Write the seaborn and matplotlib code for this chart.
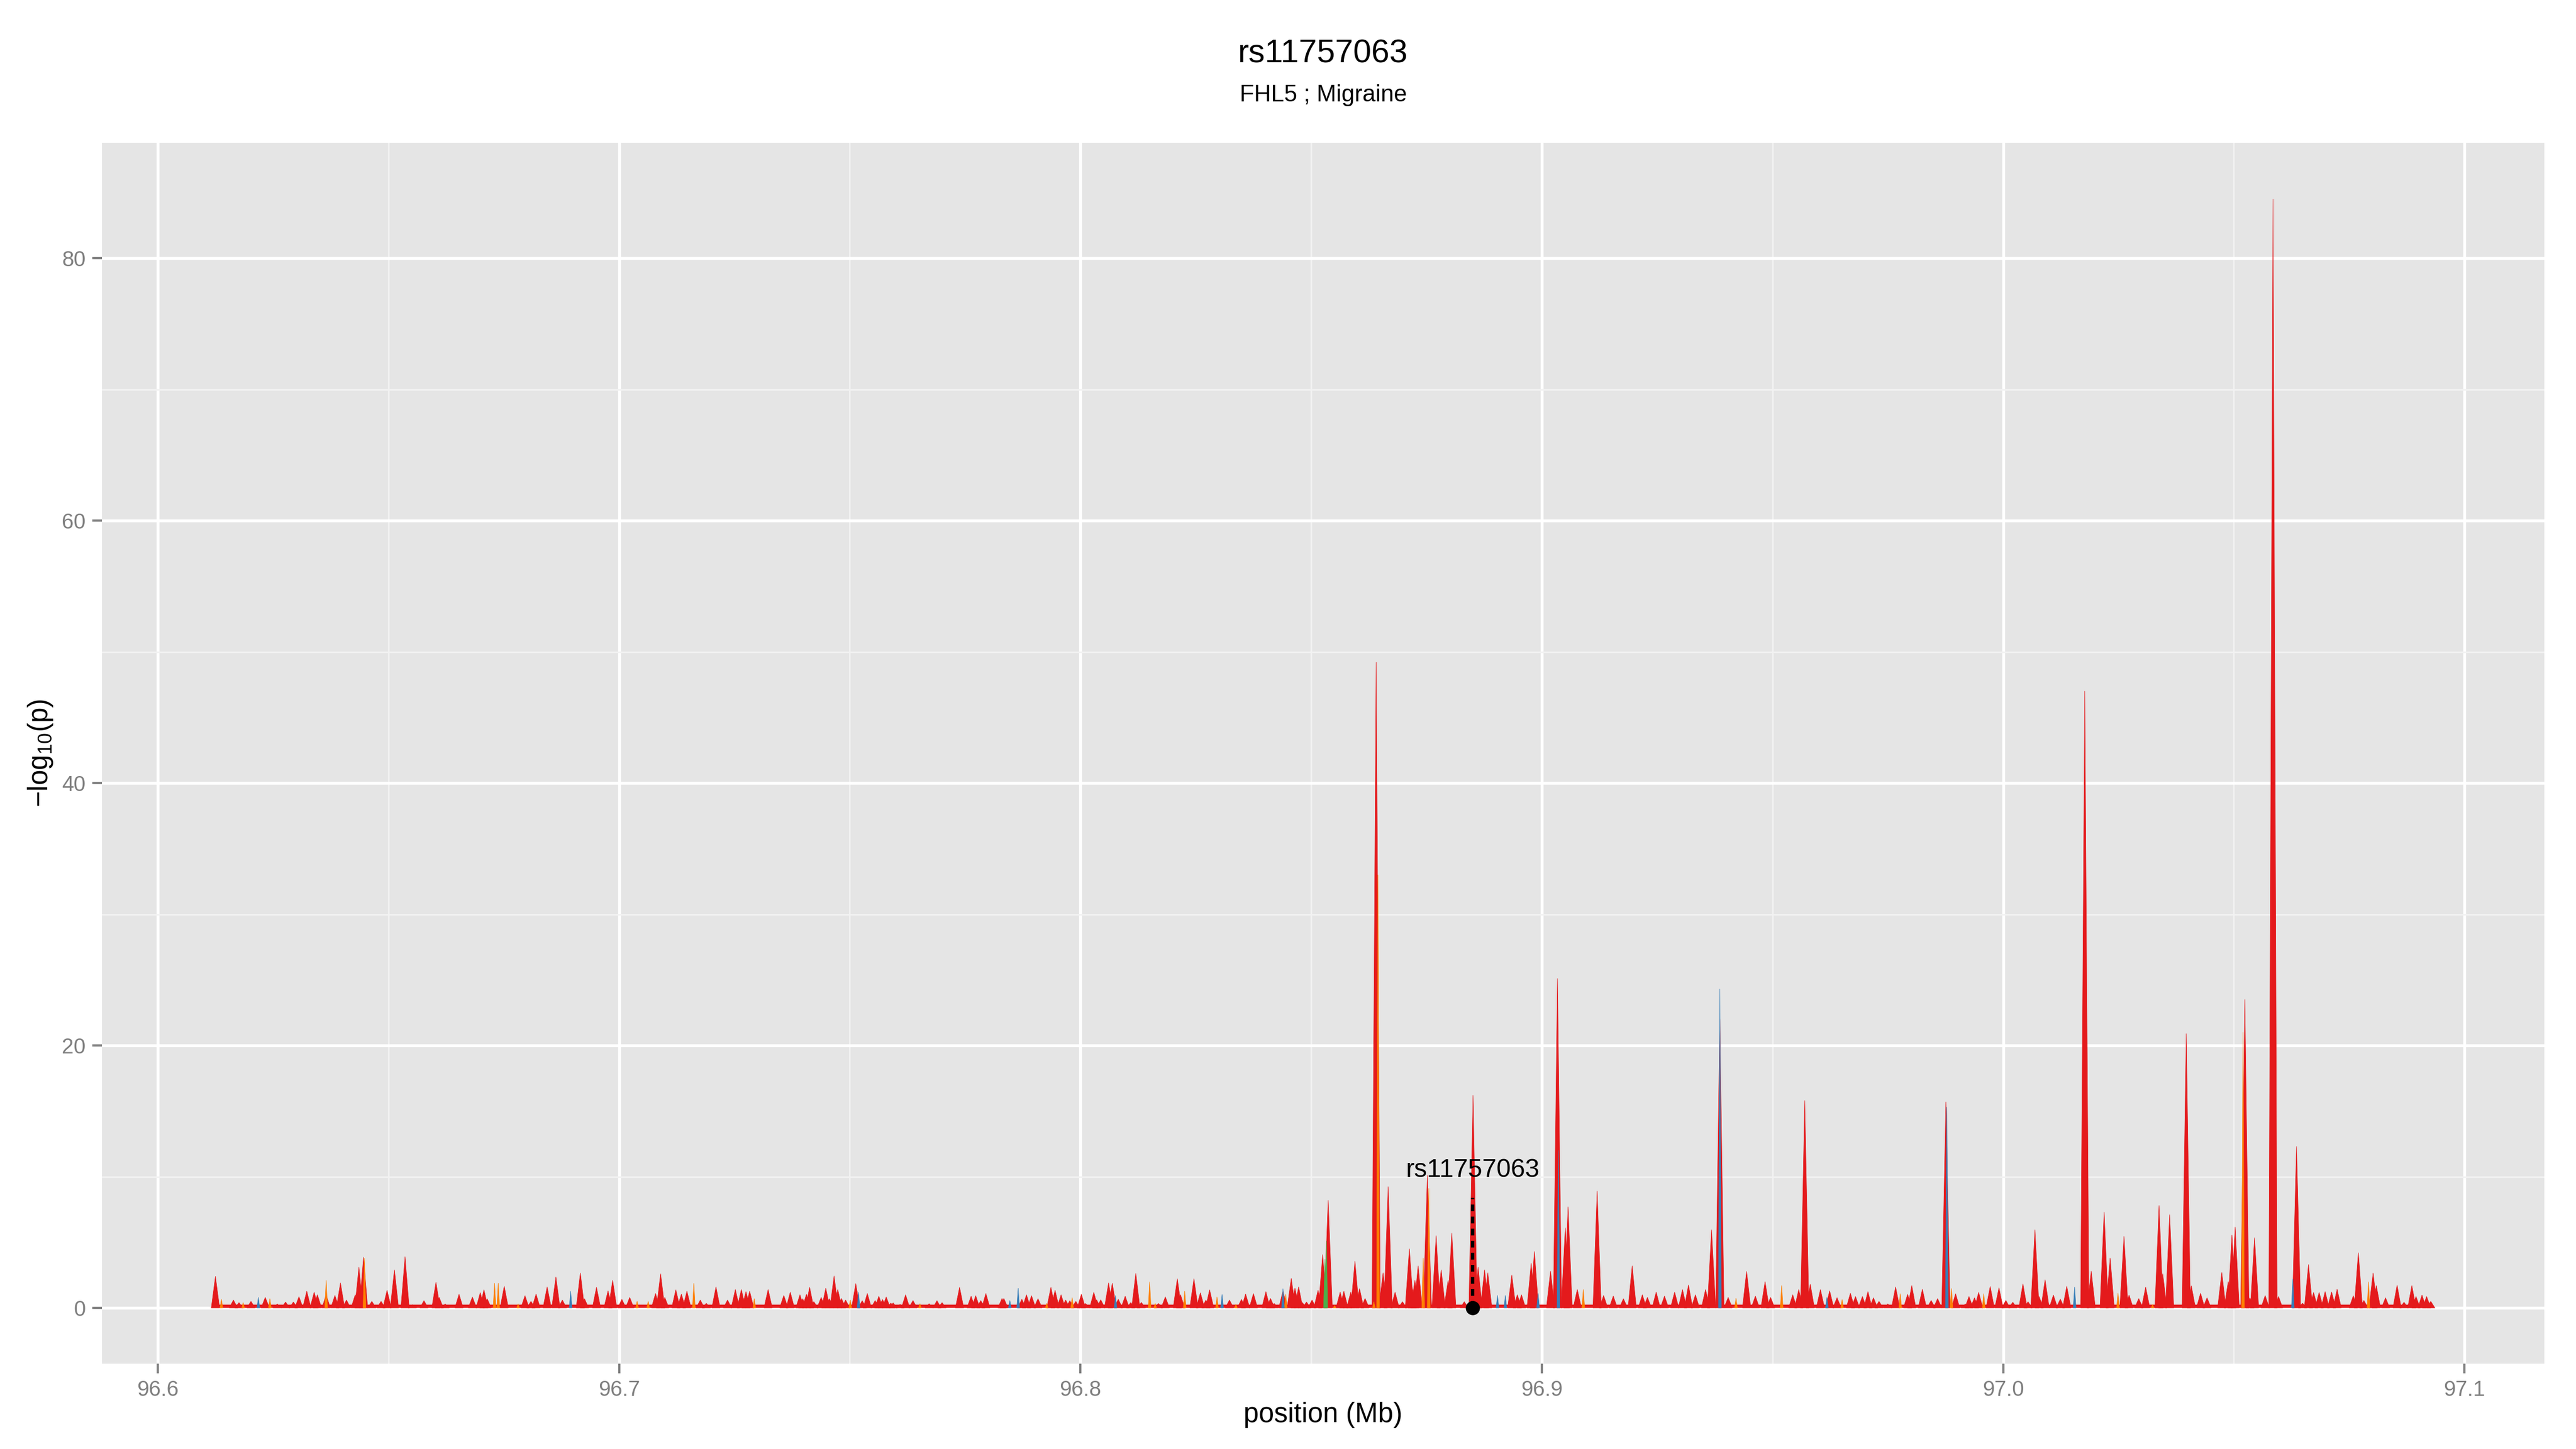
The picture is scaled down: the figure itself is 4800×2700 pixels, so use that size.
import numpy as np
import pandas as pd
import matplotlib
matplotlib.use("Agg")
import matplotlib.pyplot as plt
from matplotlib.collections import PolyCollection
import seaborn as sns

# ---------------- data ----------------
title_text = "rs11757063"
subtitle_text = "FHL5 ; Migraine"
x_label = "position (Mb)"
y_label = "\u2212log$_{10}$(p)"

x_ticks = [96.6, 96.7, 96.8, 96.9, 97.0, 97.1]
x_tick_labels = ["96.6", "96.7", "96.8", "96.9", "97.0", "97.1"]
y_ticks = [0, 20, 40, 60, 80]
y_tick_labels = ["0", "20", "40", "60", "80"]

# -log10(p) peaks, LD class "red"
red_pos = [
    96.6125, 96.6164, 96.6176, 96.6202, 96.6233, 96.6259, 96.6277, 96.6294, 96.6306, 96.6323,
    96.6339, 96.6346, 96.6365, 96.6384, 96.6396, 96.6409, 96.6428, 96.6436, 96.6446, 96.6464,
    96.6484, 96.6497, 96.6513, 96.6536, 96.6552, 96.6577, 96.6603, 96.6610, 96.6623, 96.6653,
    96.6682, 96.6699, 96.6707, 96.6714, 96.6751, 96.6796, 96.6809, 96.6820, 96.6844, 96.6863,
    96.6877, 96.6916, 96.6925, 96.6951, 96.6976, 96.6986, 96.7006, 96.7023, 96.7079, 96.7090,
    96.7099, 96.7123, 96.7135, 96.7147, 96.7176, 96.7189, 96.7210, 96.7235, 96.7252, 96.7265,
    96.7275, 96.7283, 96.7323, 96.7357, 96.7371, 96.7392,
    96.7398, 96.7406, 96.7413, 96.7422, 96.7438, 96.7448, 96.7456, 96.7466, 96.7474, 96.7482,
    96.7491, 96.7513, 96.7527, 96.7538, 96.7555, 96.7563, 96.7571, 96.7579, 96.7589, 96.7594,
    96.7609, 96.7621, 96.7637, 96.7672, 96.7689, 96.7700, 96.7738, 96.7763, 96.7773, 96.7784,
    96.7795, 96.7830, 96.7834, 96.7873, 96.7883, 96.7894, 96.7908, 96.7936, 96.7945, 96.7958,
    96.7968, 96.7977, 96.7990, 96.8002, 96.8011, 96.8029, 96.8035, 96.8044, 96.8061, 96.8069,
    96.8082, 96.8097, 96.8109, 96.8120, 96.8132, 96.8169, 96.8184, 96.8210, 96.8217, 96.8246,
    96.8260, 96.8272, 96.8280, 96.8323, 96.8349, 96.8358, 96.8375, 96.8402, 96.8412, 96.8420,
    96.8439, 96.8457, 96.8465, 96.8473, 96.8481, 96.8490, 96.8502, 96.8515, 96.8525, 96.8537,
    96.8563, 96.8571, 96.8579, 96.8586, 96.8595, 96.8605, 96.8617,
    96.8641, 96.8656, 96.8667, 96.8682, 96.8698, 96.8713, 96.8719, 96.8725, 96.8732, 96.8752,
    96.8771, 96.8782, 96.8797, 96.8805, 96.8832, 96.8851, 96.8862, 96.8876, 96.8883, 96.8935,
    96.8947, 96.8956, 96.8977, 96.8984, 96.9019, 96.9034, 96.9051, 96.9057, 96.9077, 96.9120,
    96.9134, 96.9155, 96.9177, 96.9196, 96.9218, 96.9229, 96.9248, 96.9266, 96.9288, 96.9305,
    96.9318, 96.9333, 96.9355, 96.9368, 96.9386, 96.9404, 96.9444, 96.9463, 96.9484, 96.9496,
    96.9544, 96.9557, 96.9570, 96.9582, 96.9604,
    96.9624, 96.9640, 96.9669, 96.9680, 96.9695, 96.9707, 96.9719, 96.9731, 96.9750, 96.9767,
    96.9793, 96.9802, 96.9825, 96.9844, 96.9858, 96.9876, 96.9897, 96.9918, 96.9926, 96.9938,
    96.9947, 96.9972, 96.9991, 97.0006, 97.0021, 97.0043, 97.0054, 97.0069, 97.0078, 97.0091,
    97.0109, 97.0124, 97.0138, 97.0177, 97.0191, 97.0219, 97.0232, 97.0262, 97.0273, 97.0294,
    97.0309, 97.0338, 97.0346, 97.0361, 97.0397, 97.0408, 97.0428, 97.0442, 97.0474, 97.0488,
    97.0496, 97.0503, 97.0524, 97.0535, 97.0545, 97.0568, 97.0585, 97.0597, 97.0636, 97.0649,
    97.0662, 97.0673, 97.0685, 97.0698, 97.0712, 97.0724, 97.0759, 97.0770, 97.0782, 97.0802,
    97.0809, 97.0829, 97.0854, 97.0869, 97.0886, 97.0895, 97.0908, 97.0918, 97.0927,
]
red_logp = [
    2.4, 0.6, 0.4, 0.5, 0.8, 0.3, 0.45, 0.45, 0.85, 1.27,
    1.2, 1.0, 1.0, 0.95, 1.9, 0.6, 1.0, 3.1, 3.86, 0.5,
    0.5, 1.34, 2.9, 3.9, 0.25, 0.55, 1.95, 0.8, 0.3, 1.04,
    0.83, 1.16, 1.38, 0.7, 1.65, 0.93, 0.5, 1.05, 1.6, 2.36,
    0.6, 2.66, 0.7, 1.57, 1.3, 2.1, 0.65, 0.8, 1.1, 2.6,
    0.8, 1.38, 1.05, 1.27, 0.6, 0.35, 1.6, 0.6, 1.4, 1.4,
    1.24, 1.27, 1.4, 0.95, 1.2, 1.0,
    0.7, 1.04, 1.57, 0.48, 0.8, 1.5, 0.7, 2.43, 1.4, 0.72,
    0.6, 1.85, 0.55, 1.1, 0.56, 0.89, 0.64, 0.83, 0.37, 0.38,
    0.27, 1.0, 0.56, 0.32, 0.55, 0.4, 1.57, 0.89, 0.93, 0.56,
    1.1, 0.72, 0.72, 0.66, 1.0, 0.93, 0.7, 1.57, 1.34, 1.0,
    0.6, 0.55, 0.5, 1.04, 0.34, 1.19, 0.62, 0.62, 1.9, 1.88,
    0.66, 0.89, 0.4, 2.63, 0.42, 0.34, 0.84, 2.22, 1.0, 2.22,
    1.15, 0.6, 1.38, 0.6, 0.65, 1.06, 1.09, 1.24, 0.72, 0.34,
    1.3, 2.25, 1.5, 1.6, 0.41, 0.45, 0.6, 1.34, 4.06, 8.2,
    1.2, 1.27, 0.3, 1.2, 3.56, 1.47, 0.72,
    49.2, 2.67, 9.24, 1.2, 0.47, 4.5, 1.57, 2.1, 3.2, 10.1,
    5.5, 2.9, 2.1, 5.7, 0.47, 16.2, 3.1, 2.9, 2.67, 2.5,
    1.0, 1.0, 3.4, 4.3, 2.8, 25.1, 6.1, 7.7, 1.4, 8.9,
    0.95, 0.9, 0.7, 3.2, 1.0, 0.8, 1.2, 0.9, 1.2, 1.4,
    1.75, 1.0, 1.4, 5.95, 22.0, 0.8, 2.78, 0.9, 2.0, 0.8,
    1.0, 1.4, 15.8, 1.8, 1.4,
    1.3, 0.78, 1.12, 0.87, 0.87, 1.24, 0.77, 0.5, 0.3, 1.6,
    1.04, 1.7, 1.42, 0.57, 0.71, 15.7, 1.08, 0.3, 0.87, 0.77,
    1.18, 1.63, 1.53, 0.57, 0.43, 1.83, 0.47, 5.95, 0.87, 2.14,
    0.98, 0.67, 1.65, 47.0, 2.8, 7.3, 3.8, 5.45, 0.98, 0.71,
    1.59, 7.8, 2.6, 7.1, 20.9, 1.68, 1.12, 0.77, 2.7, 2.0,
    5.55, 6.16, 23.5, 0.77, 5.35, 0.94, 84.5, 0.87, 12.3, 0.36,
    3.3, 1.18, 1.18, 1.24, 1.22, 1.42, 0.92, 4.2, 0.57, 2.66,
    1.7, 0.77, 1.73, 0.43, 1.7, 0.87, 0.98, 0.87, 0.5,
]

orange_pos = [
    96.6138, 96.6185, 96.6243, 96.6365, 96.6448, 96.6730, 96.6738, 96.6781, 96.7039, 96.7063,
    96.7162, 96.7293, 96.7501, 96.7652, 96.7927, 96.7982, 96.8150, 96.8162, 96.8226, 96.8296,
    96.8337, 96.8445, 96.8551, 96.8636, 96.8645, 96.8743, 96.8755, 96.9090, 96.9421, 96.9520,
    96.9651, 96.9777, 96.9888, 96.9958, 97.0249, 97.0324, 97.0520, 97.0792,
]
orange_logp = [
    0.65, 0.4, 0.7, 2.1, 3.8, 1.88, 1.88, 0.3, 0.5, 0.5,
    1.87, 0.7, 0.6, 0.32, 0.35, 0.78, 1.98, 0.34, 1.27, 0.83,
    0.27, 1.04, 0.18, 0.47, 33.0, 3.8, 9.1, 1.4, 0.73, 1.7,
    0.63, 1.08, 1.48, 1.08, 1.12, 0.26, 21.0, 1.98,
]

blue_pos = [
    96.6218, 96.6895, 96.7519, 96.7847, 96.7865, 96.8076, 96.8307, 96.8439, 96.8904, 96.8921,
    96.8992, 96.9036, 96.9386, 96.9618, 96.9878, 97.0155, 97.0628,
]
blue_logp = [
    0.8, 1.27, 1.2, 0.56, 1.5, 0.94, 1.02, 1.46, 0.95, 0.95,
    1.1, 12.0, 24.3, 0.8, 15.3, 1.59, 2.2,
]

green_pos = [96.8530, 96.8533]
green_logp = [3.7, 5.1]

floor_start = 96.6120
floor_end = 97.0930
floor_logp = 0.25

snp_name = "rs11757063"
snp_pos = 96.8850
snp_logp = 0.0
snp_line_top = 8.4
snp_label_y = 10.5

# ---------------- style ----------------
sns.set_theme(style="darkgrid", rc={
    "axes.facecolor": "#E5E5E5",
    "figure.facecolor": "white",
    "grid.color": "white",
    "axes.edgecolor": "#E5E5E5",
})
plt.rcParams["font.family"] = ["Liberation Sans", "DejaVu Sans"]
plt.rcParams["mathtext.fontset"] = "custom"
plt.rcParams["mathtext.rm"] = "Liberation Sans"
plt.rcParams["mathtext.default"] = "regular"

RED = "#E41A1C"
ORANGE = "#FF7F00"
BLUE = "#377EB8"
GREEN = "#4DAF4A"

fig = plt.figure(figsize=(16, 9), dpi=300)
ax = fig.add_axes([0.03958, 0.05889, 0.9481, 0.8426])
ax.set_axisbelow(True)
for s in ax.spines.values():
    s.set_visible(False)


def spike_collection(pos, val, half_width, color, z):
    verts = [[(p - half_width, 0.0), (p, v), (p + half_width, 0.0)] for p, v in zip(pos, val)]
    pc = PolyCollection(verts, facecolors=color, edgecolors=color, linewidths=0.2, zorder=z)
    ax.add_collection(pc)


# noise floor of the red class
ax.fill_between([floor_start, floor_end], 0, floor_logp, color=RED, lw=0, zorder=2)
spike_collection(red_pos, red_logp, 0.0009, RED, 3)
spike_collection(orange_pos, orange_logp, 0.0003, ORANGE, 4)
spike_collection(blue_pos, blue_logp, 0.0003, BLUE, 4)
spike_collection(green_pos, green_logp, 0.0003, GREEN, 4)

# highlighted SNP
ax.plot([snp_pos, snp_pos], [snp_logp, snp_line_top], color="black", lw=1.5,
        dashes=(2, 1.6), zorder=6)
snp_df = pd.DataFrame({"pos": [snp_pos], "logp": [snp_logp]})
sns.scatterplot(data=snp_df, x="pos", y="logp", color="black", s=40, edgecolor="black",
                linewidth=0, zorder=7, ax=ax, clip_on=False)
ax.text(snp_pos, snp_label_y, snp_name, ha="center", va="center", fontsize=11.5,
        color="black", zorder=8)

# axes
ax.set_xlim(96.5879, 97.1173)
ax.set_ylim(-4.25, 88.8)
ax.set_xticks(x_ticks)
ax.set_xticklabels(x_tick_labels)
ax.set_yticks(y_ticks)
ax.set_yticklabels(y_tick_labels)
ax.set_xticks([96.65, 96.75, 96.85, 96.95, 97.05], minor=True)
ax.set_yticks([10, 30, 50, 70], minor=True)
ax.grid(which="major", color="white", lw=1.3)
ax.grid(which="minor", color="#F2F2F2", lw=0.7)
ax.tick_params(which="major", length=4.3, width=1.0, color="#7F7F7F", labelcolor="#7F7F7F",
               labelsize=9.6, pad=3, bottom=True, left=True)
ax.tick_params(which="minor", length=0, bottom=False, left=False)
ax.set_xlabel("")
ax.set_ylabel("")

cx = 0.03958 + 0.9481 / 2
fig.text(cx, 0.9626, title_text, ha="center", va="center", fontsize=14.6, color="black")
fig.text(cx, 0.9343, subtitle_text, ha="center", va="center", fontsize=10.5, color="black")
fig.text(cx, 0.0237, x_label, ha="center", va="center", fontsize=12.3, color="black")
fig.text(0.0158, 0.4803, y_label, ha="center", va="center", rotation=90, fontsize=12.3,
         color="black")

fig.savefig("out.png", dpi=300)
